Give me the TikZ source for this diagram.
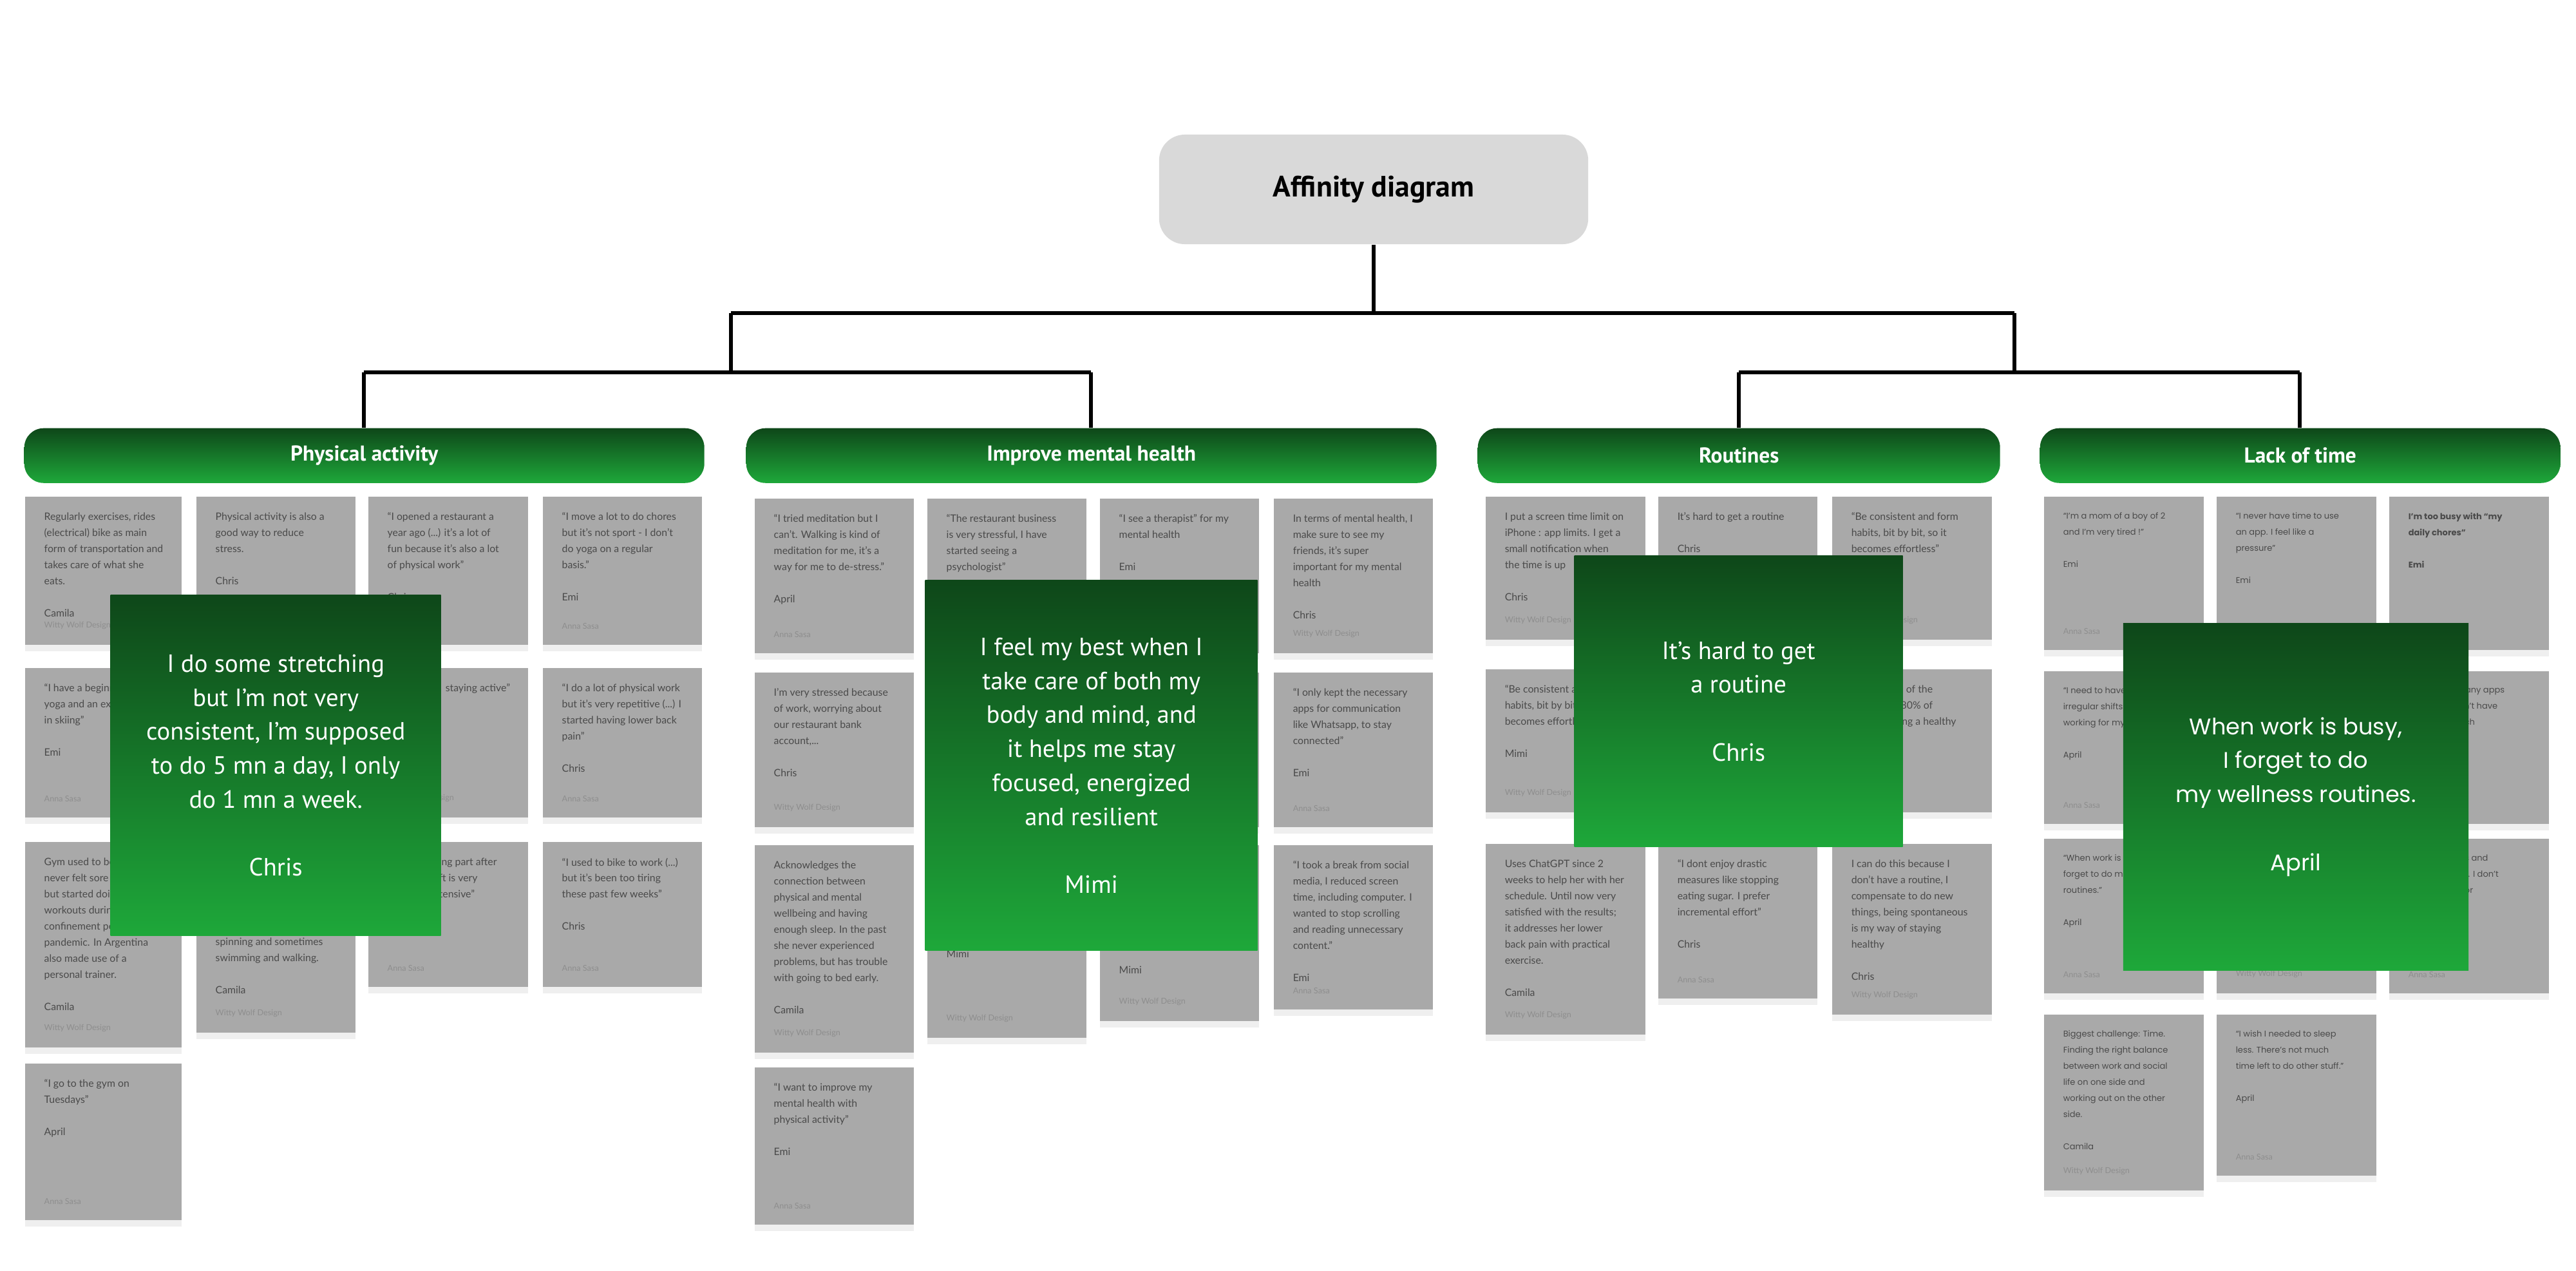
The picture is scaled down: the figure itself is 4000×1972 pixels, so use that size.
\documentclass[tikz,border=0pt]{standalone}
\usepackage{fontspec}
\setmainfont{Lato}
\newfontfamily\hdfont{PT Sans}
\newfontfamily\popfont{Poppins}
\usetikzlibrary{shadows}
\definecolor{notegray}{HTML}{A9A9A9}
\definecolor{notetxt}{HTML}{4A4A4A}
\definecolor{notefootc}{HTML}{8E8E8E}
\definecolor{gdark}{HTML}{0E4719}
\definecolor{glight}{HTML}{1EA83A}
\definecolor{titlegray}{HTML}{D9D9D9}
\tikzset{
  notebox/.style={rectangle, fill=notegray, inner sep=0pt, drop shadow={opacity=0.12,shadow xshift=0pt,shadow yshift=-3pt}},
  notetext/.style={inner sep=0pt, align=left, text=notetxt, font=\fontsize{4.5}{7.1}\selectfont},
  popnote/.style={font=\popfont\fontsize{3.7}{7.1}\selectfont},
  notefoot/.style={inner sep=0pt, text=notefootc, font=\fontsize{3.6}{4}\selectfont},
  header/.style={rectangle, rounded corners=0.3cm, top color=gdark, bottom color=glight, text=white, inner sep=0pt, font=\hdfont\bfseries\fontsize{9.5}{11}\selectfont},
  quotebox/.style={rectangle, top color=gdark, bottom color=glight, text=white, inner sep=0pt, align=center, font=\hdfont\fontsize{11}{15}\selectfont},
  tree/.style={line width=1.7pt, black},
}
\newcommand\nt[9]{%
  \node[notebox, anchor=north west, minimum width={(#4-#2)*0.01cm}, minimum height={(#5-#3)*0.01cm}] (#1) at (#2,#3) {};
  \node[notetext, #9, anchor=north west] (#1t) at ([xshift=0.3cm,yshift=-0.25cm]#1.north west) {#6\\[7.1pt]#7};
  \node[notefoot, anchor=south west] (#1f) at ([xshift=0.3cm,yshift=0.24cm]#1.south west) {#8};
}
\newcommand\hb[5]{%
  \node[header, anchor=north west, minimum width={(#3-#2)*0.01cm}, minimum height={0.85cm}] (#1) at (#2,#4) {#5};
}
\newcommand\qb[6]{%
  \node[quotebox, anchor=north west, minimum width={(#4-#2)*0.01cm}, minimum height={(#5-#3)*0.01cm}] (#1) at (#2,#3) {#6};
}
\newcommand\el{\mbox{}}
\begin{document}
\begin{tikzpicture}[x=0.01cm,y=-0.01cm]
\useasboundingbox[fill=white] (0,0) rectangle (4000,1972);

\node[rectangle, rounded corners=0.4cm, fill=titlegray, minimum width=6.66cm, minimum height=1.70cm, font=\hdfont\bfseries\fontsize{13}{15}\selectfont] (title) at (2133,294) {Affinity diagram};

\hb{hpa}{37}{1093}{664}{Physical activity}
\hb{hmh}{1158}{2230}{664}{Improve mental health}
\hb{hro}{2294}{3105}{664}{Routines}
\hb{hlt}{3167}{3975}{664}{Lack of time}

\coordinate (j0) at (2133,486);
\coordinate (jl) at (1135,486);
\coordinate (jr) at (3128,486);
\coordinate (kl) at (1135,578);
\coordinate (kr) at (3128,578);
\coordinate (kla) at (565,578);
\coordinate (klb) at (1694,578);
\coordinate (kra) at (2700,578);
\coordinate (krb) at (3571,578);
\draw[tree] (title.south) -- (j0);
\draw[tree] (jl) -- (jr);
\draw[tree] (jl) -- (kl);
\draw[tree] (jr) -- (kr);
\draw[tree] (kla) -- (klb);
\draw[tree] (kra) -- (krb);
\draw[tree] (kla) -- (kla |- hpa.north);
\draw[tree] (klb) -- (klb |- hmh.north);
\draw[tree] (kra) -- (kra |- hro.north);
\draw[tree] (krb) -- (krb |- hlt.north);

\nt{p11}{38}{770}{281}{1000}{Regularly exercises, rides\\(electrical) bike as main\\form of transportation and\\takes care of what she\\eats.}{Camila}{Witty Wolf Design}{}
\nt{p12}{304}{770}{551}{1000}{Physical activity is also a\\good way to reduce\\stress.}{Chris}{}{}
\nt{p13}{571}{770}{819}{1000}{“I opened a restaurant a\\year ago (...) it’s a lot of\\fun because it’s also a lot\\of physical work”}{Chris}{}{}
\nt{p14}{842}{770}{1089}{1000}{“I move a lot to do chores\\but it’s not sport - I don’t\\do yoga on a regular\\basis.”}{Emi}{Anna Sasa}{}
\nt{p21}{38}{1036}{281}{1268}{“I have a beginner level in\\yoga and an expert level\\in skiing”}{Emi}{Anna Sasa}{}
\nt{p22}{304}{1036}{551}{1268}{}{}{}{}
\nt{p23}{571}{1036}{819}{1268}{\hspace*{0.9cm}staying active”}{}{Witty Wolf Design}{}
\nt{p24}{842}{1036}{1089}{1268}{“I do a lot of physical work\\but it’s very repetitive (...) I\\started having lower back\\pain”}{Chris}{Anna Sasa}{}
\nt{p31}{38}{1306}{281}{1625}{Gym used to be a routine,\\never felt sore after it,\\but started doing home\\workouts during the\\confinement period of the\\pandemic. In Argentina\\also made use of a\\personal trainer.}{Camila}{Witty Wolf Design}{}
\nt{p32}{304}{1306}{551}{1602}{\el\\\el\\\el\\\el\\\el\\[3pt]spinning and sometimes\\swimming and walking.}{Camila}{Witty Wolf Design}{}
\nt{p33}{571}{1306}{819}{1531}{\hspace*{0.8cm}ing part after\\\hspace*{0.8cm}ft is very\\\hspace*{0.8cm}tensive”}{}{Anna Sasa}{}
\nt{p34}{842}{1306}{1089}{1531}{“I used to bike to work (...)\\but it’s been too tiring\\these past few weeks”}{Chris}{Anna Sasa}{}
\nt{p41}{38}{1650}{281}{1893}{“I go to the gym on\\Tuesdays”}{April}{Anna Sasa}{}

\nt{m11}{1171}{773}{1418}{1013}{“I tried meditation but I\\can’t. Walking is kind of\\meditation for me, it’s a\\way for me to de-stress.”}{April}{Anna Sasa}{}
\nt{m12}{1439}{773}{1686}{1013}{“The restaurant business\\is very stressful, I have\\started seeing a\\psychologist”}{}{}{}
\nt{m13}{1707}{773}{1954}{1013}{“I see a therapist” for my\\mental health}{Emi}{}{}
\nt{m14}{1977}{773}{2224}{1013}{In terms of mental health, I\\make sure to see my\\friends, it’s super\\important for my mental\\health}{Chris}{Witty Wolf Design}{}
\nt{m21}{1171}{1043}{1418}{1283}{I’m very stressed because\\of work, worrying about\\our restaurant bank\\account,...}{Chris}{Witty Wolf Design}{}
\nt{m22}{1439}{1043}{1686}{1283}{}{}{}{}
\nt{m23}{1707}{1043}{1954}{1283}{}{}{}{}
\nt{m24}{1977}{1043}{2224}{1283}{“I only kept the necessary\\apps for communication\\like Whatsapp, to stay\\connected”}{Emi}{Anna Sasa}{}
\nt{m31}{1171}{1311}{1418}{1633}{Acknowledges the\\connection between\\physical and mental\\wellbeing and having\\enough sleep. In the past\\she never experienced\\problems, but has trouble\\with going to bed early.}{Camila}{Witty Wolf Design}{}
\nt{m32}{1439}{1311}{1686}{1610}{\el\\\el\\\el\\\el\\\el}{Mimi}{Witty Wolf Design}{}
\nt{m33}{1707}{1311}{1954}{1584}{\el\\\el\\\el\\\el\\\el\\\el}{Mimi}{Witty Wolf Design}{}
\nt{m34}{1977}{1311}{2224}{1566}{“I took a break from social\\media, I reduced screen\\time, including computer. I\\wanted to stop scrolling\\and reading unnecessary\\content.”}{Emi}{Anna Sasa}{}
\nt{m41}{1171}{1656}{1418}{1900}{“I want to improve my\\mental health with\\physical activity”}{Emi}{Anna Sasa}{}

\nt{r11}{2306}{770}{2554}{992}{I put a screen time limit on\\iPhone : app limits. I get a\\small notification when\\the time is up}{Chris}{Witty Wolf Design}{}
\nt{r12}{2574}{770}{2821}{992}{It’s hard to get a routine}{Chris}{}{}
\nt{r13}{2844}{770}{3092}{992}{“Be consistent and form\\habits, bit by bit, so it\\becomes effortless”}{}{Witty Wolf Design}{}
\nt{r21}{2306}{1038}{2554}{1260}{“Be consistent and form\\habits, bit by bit, so it\\becomes effortless”}{Mimi}{Witty Wolf Design}{}
\nt{r22}{2574}{1038}{2821}{1260}{}{}{}{}
\nt{r23}{2844}{1038}{3092}{1260}{\hspace*{0.5cm}20\% of the\\\hspace*{0.5cm}the 80\% of\\\hspace*{0.5cm}having a healthy}{}{}{}
\nt{r31}{2306}{1309}{2554}{1605}{Uses ChatGPT since 2\\weeks to help her with her\\schedule. Until now very\\satisfied with the results;\\it addresses her lower\\back pain with practical\\exercise.}{Camila}{Witty Wolf Design}{}
\nt{r32}{2574}{1309}{2821}{1549}{“I dont enjoy drastic\\measures like stopping\\eating sugar. I prefer\\incremental effort”}{Chris}{Anna Sasa}{}
\nt{r33}{2844}{1309}{3092}{1574}{I can do this because I\\don’t have a routine, I\\compensate to do new\\things, being spontaneous\\is my way of staying\\healthy}{Chris}{Witty Wolf Design}{}

\nt{l11}{3173}{770}{3421}{1008}{“I’m a mom of a boy of 2\\and I’m very tired !”}{Emi}{Anna Sasa}{popnote}
\nt{l12}{3441}{770}{3689}{1008}{“I never have time to use\\an app. I feel like a\\pressure”}{Emi}{}{popnote}
\nt{l13}{3709}{770}{3957}{1008}{\textbf{I’m too busy with “my}\\\textbf{daily chores”}}{\textbf{Emi}}{}{popnote}
\nt{l21}{3173}{1041}{3421}{1278}{“I need to have a lot of\\irregular shifts when\\working for my restaurant”}{April}{Anna Sasa}{popnote}
\nt{l22}{3441}{1041}{3689}{1278}{}{}{}{popnote}
\nt{l23}{3709}{1041}{3957}{1278}{\hspace*{0.5cm}too many apps\\\hspace*{0.5cm}k, I don’t have\\\hspace*{0.5cm}on each}{}{}{popnote}
\nt{l31}{3173}{1301}{3421}{1541}{“When work is busy, I\\forget to do my wellness\\routines.”}{April}{Anna Sasa}{popnote}
\nt{l32}{3441}{1301}{3689}{1541}{}{}{Witty Wolf Design}{popnote}
\nt{l33}{3709}{1301}{3957}{1541}{\hspace*{0.5cm}chores and\\\hspace*{0.5cm}my kid. I don’t\\\hspace*{0.5cm}time for}{}{Anna Sasa}{popnote}
\nt{l41}{3173}{1574}{3421}{1847}{Biggest challenge: Time.\\Finding the right balance\\between work and social\\life on one side and\\working out on the other\\side.}{Camila}{Witty Wolf Design}{popnote}
\nt{l42}{3441}{1574}{3689}{1824}{“I wish I needed to sleep\\less. There’s not much\\time left to do other stuff.”}{April}{Anna Sasa}{popnote}

\qb{qpa}{171}{923}{684}{1452}{I do some stretching\\but I’m not very\\consistent, I’m supposed\\to do 5 mn a day, I only\\do 1 mn a week.\\[15pt]Chris}
\qb{qmh}{1436}{900}{1952}{1475}{I feel my best when I\\take care of both my\\body and mind, and\\it helps me stay\\focused, energized\\and resilient\\[15pt]Mimi}
\qb{qro}{2444}{862}{2954}{1314}{It’s hard to get\\a routine\\[15pt]Chris}
\node[quotebox, font=\popfont\fontsize{10}{15}\selectfont, anchor=north west, minimum width=5.36cm, minimum height=5.38cm] (qlt) at (3296,967) {When work is busy,\\I forget to do\\my wellness routines.\\[15pt]April};
\end{tikzpicture}
\end{document}
